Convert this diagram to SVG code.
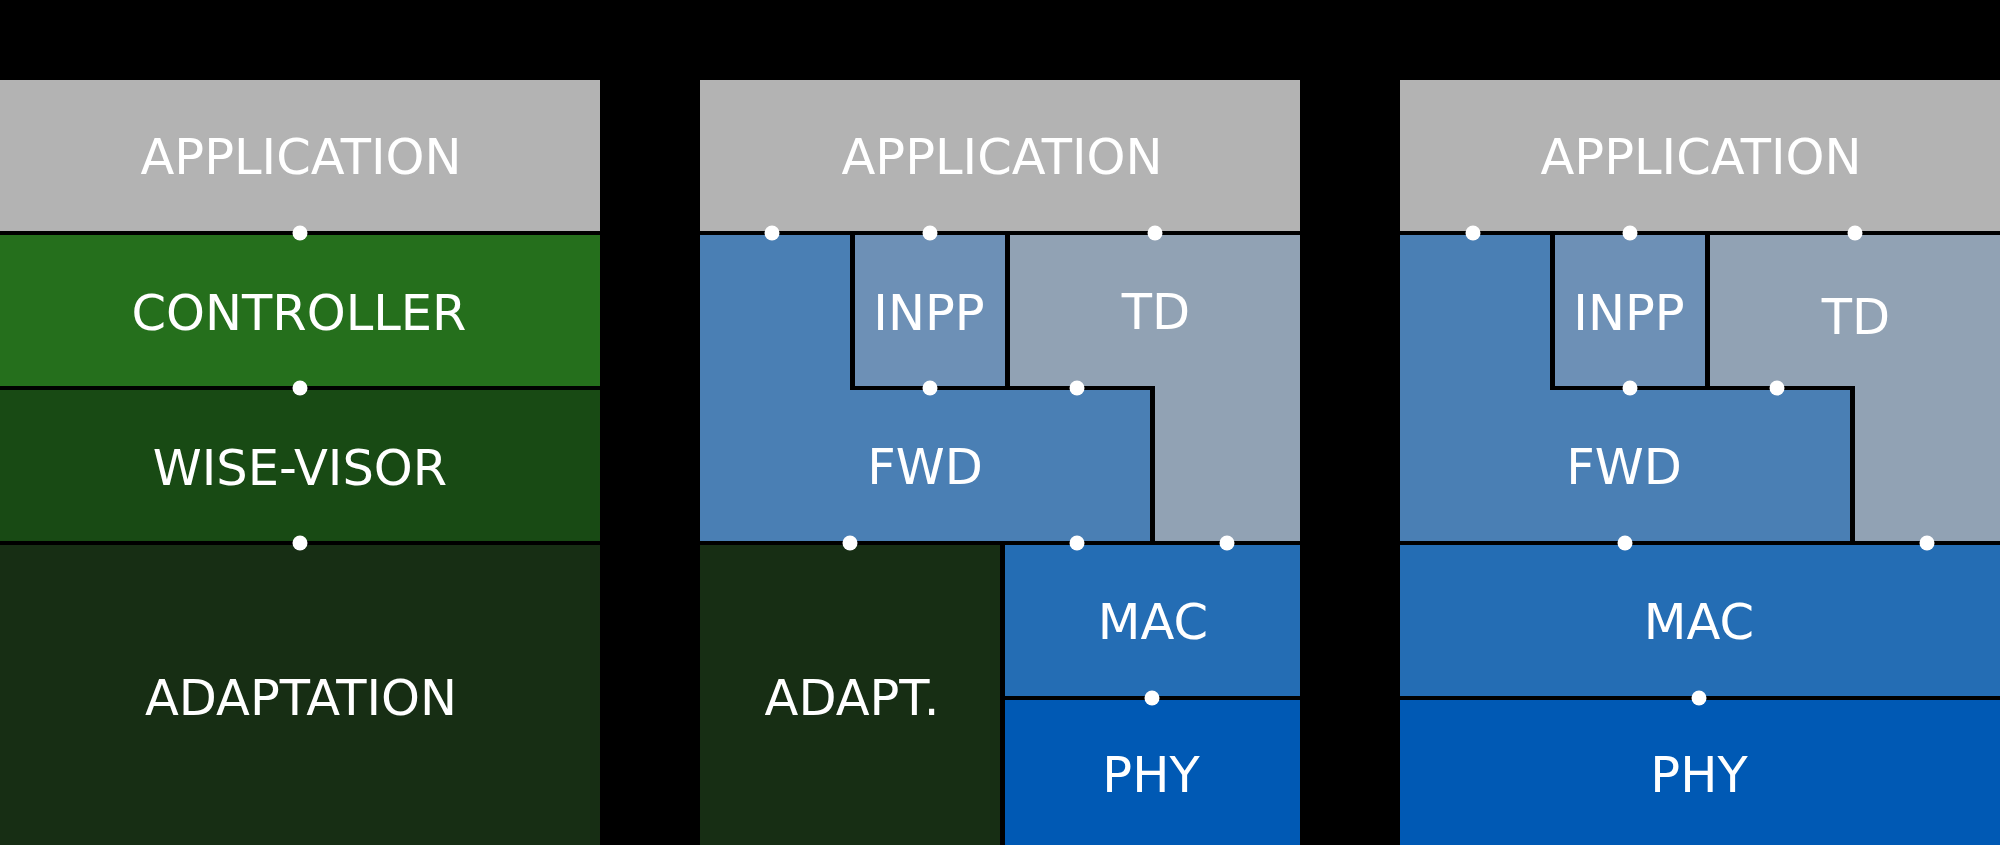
<svg xmlns="http://www.w3.org/2000/svg" width="2000" height="845" viewBox="0 0 2000 845">
<style>
.lbl{font-family:"DejaVu Sans","Liberation Sans",sans-serif;font-size:49.5px;fill:#ffffff;text-anchor:middle}
.app{fill:#b3b3b3}
.ctrl{fill:#256f1c}
.wise{fill:#184a14}
.adapt{fill:#172e14}
.fwd{fill:#4a7fb4}
.inpp{fill:#6d90b6}
.td{fill:#91a2b4}
.mac{fill:#246db4}
.phy{fill:#0059b4}
.dot{fill:#ffffff}
</style>
<rect x="0" y="0" width="2000" height="845" fill="#000000"/>

<!-- Column 1 -->
<g id="c1-application"><rect class="app" x="0" y="80" width="600" height="151"/><text class="lbl" x="301" y="173.5">APPLICATION</text></g>
<g id="c1-controller"><rect class="ctrl" x="0" y="235" width="600" height="151"/><text class="lbl" x="299" y="329.5">CONTROLLER</text></g>
<g id="c1-wisevisor"><rect class="wise" x="0" y="390" width="600" height="151"/><text class="lbl" x="300" y="485">WISE-VISOR</text></g>
<g id="c1-adaptation"><rect class="adapt" x="0" y="545" width="600" height="300"/><text class="lbl" x="301" y="714.5">ADAPTATION</text></g>

<!-- Column 2 -->
<g id="c2-application"><rect class="app" x="700" y="80" width="600" height="151"/><text class="lbl" x="1002" y="173.5">APPLICATION</text></g>
<g id="c2-fwd"><polygon class="fwd" points="700,235 850,235 850,390 1150,390 1150,541 700,541"/><text class="lbl" x="925" y="483.5">FWD</text></g>
<g id="c2-inpp"><rect class="inpp" x="855" y="235" width="150" height="151"/><text class="lbl" x="929" y="329.5">INPP</text></g>
<g id="c2-td"><polygon class="td" points="1010,235 1300,235 1300,541 1155,541 1155,386 1010,386"/><text class="lbl" x="1156" y="328.5">TD</text></g>
<g id="c2-adapt"><rect class="adapt" x="700" y="545" width="300" height="300"/><text class="lbl" x="852" y="714.5">ADAPT.</text></g>
<g id="c2-mac"><rect class="mac" x="1005" y="545" width="295" height="151"/><text class="lbl" x="1153" y="639">MAC</text></g>
<g id="c2-phy"><rect class="phy" x="1005" y="700" width="295" height="145"/><text class="lbl" x="1151" y="792">PHY</text></g>

<!-- Column 3 -->
<g id="c3-application"><rect class="app" x="1400" y="80" width="600" height="151"/><text class="lbl" x="1701" y="173.5">APPLICATION</text></g>
<g id="c3-fwd"><polygon class="fwd" points="1400,235 1550,235 1550,390 1850,390 1850,541 1400,541"/><text class="lbl" x="1624" y="483.5">FWD</text></g>
<g id="c3-inpp"><rect class="inpp" x="1555" y="235" width="150" height="151"/><text class="lbl" x="1629" y="329.5">INPP</text></g>
<g id="c3-td"><polygon class="td" points="1710,235 2000,235 2000,541 1855,541 1855,386 1710,386"/><text class="lbl" x="1856" y="333.5">TD</text></g>
<g id="c3-mac"><rect class="mac" x="1400" y="545" width="600" height="151"/><text class="lbl" x="1699" y="638.5">MAC</text></g>
<g id="c3-phy"><rect class="phy" x="1400" y="700" width="600" height="145"/><text class="lbl" x="1699" y="791.5">PHY</text></g>

<!-- Interface points -->
<g id="connectors">
<circle class="dot" cx="300" cy="233" r="7.5"/>
<circle class="dot" cx="300" cy="388" r="7.5"/>
<circle class="dot" cx="300" cy="543" r="7.5"/>
<circle class="dot" cx="772" cy="233" r="7.5"/>
<circle class="dot" cx="930" cy="233" r="7.5"/>
<circle class="dot" cx="1155" cy="233" r="7.5"/>
<circle class="dot" cx="930" cy="388" r="7.5"/>
<circle class="dot" cx="1077" cy="388" r="7.5"/>
<circle class="dot" cx="850" cy="543" r="7.5"/>
<circle class="dot" cx="1077" cy="543" r="7.5"/>
<circle class="dot" cx="1227" cy="543" r="7.5"/>
<circle class="dot" cx="1152" cy="698" r="7.5"/>
<circle class="dot" cx="1473" cy="233" r="7.5"/>
<circle class="dot" cx="1630" cy="233" r="7.5"/>
<circle class="dot" cx="1855" cy="233" r="7.5"/>
<circle class="dot" cx="1630" cy="388" r="7.5"/>
<circle class="dot" cx="1777" cy="388" r="7.5"/>
<circle class="dot" cx="1625" cy="543" r="7.5"/>
<circle class="dot" cx="1927" cy="543" r="7.5"/>
<circle class="dot" cx="1699" cy="698" r="7.5"/>
</g>
</svg>
